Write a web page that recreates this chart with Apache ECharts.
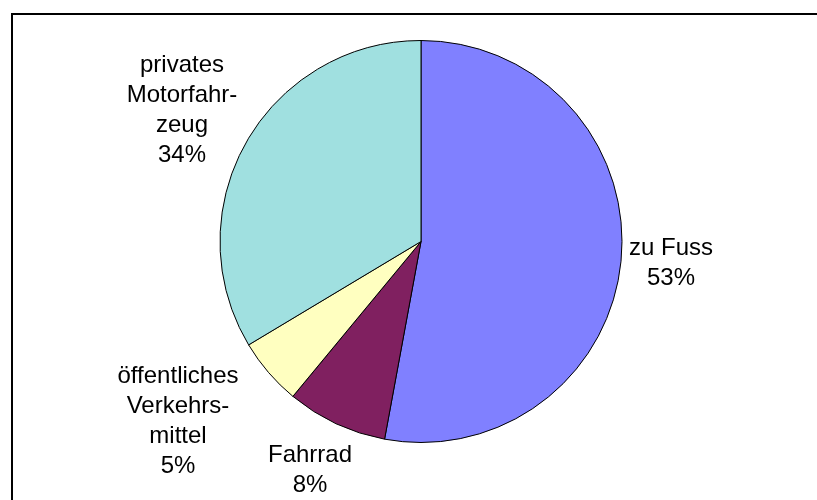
<!DOCTYPE html>
<html>
<head>
<meta charset="utf-8">
<script src="https://cdn.jsdelivr.net/npm/echarts@6/dist/echarts.min.js"></script>
<style>html,body{margin:0;padding:0;background:#fff}#c{width:817px;height:500px}</style>
</head>
<body>
<div id="c"></div>
<script>
var categories = ['zu Fuss', 'Fahrrad', 'öffentliches\nVerkehrs-\nmittel', 'privates\nMotorfahr-\nzeug'];
var values = [52.9, 8.1, 5.4, 33.6];
var percentLabels = ['53%', '8%', '5%', '34%'];
var colors = ['#8080FF', '#802060', '#FFFFC0', '#A0E0E0'];

var labelPos = [[671, 263], [310, 470], [178, 421], [182, 110]];

var chart = echarts.init(document.getElementById('c'));
chart.setOption({
  animation: false,
  backgroundColor: '#ffffff',
  graphic: [{
    type: 'rect',
    shape: {x: 12, y: 14, width: 900, height: 600},
    style: {fill: 'none', stroke: '#000', lineWidth: 2},
    silent: true
  }],
  series: [{
    type: 'pie',
    center: [421, 241.5],
    radius: 201,
    startAngle: 90,
    clockwise: true,
    data: categories.map(function (c, i) {
      return {name: c, value: values[i], itemStyle: {color: colors[i]}};
    }),
    itemStyle: {borderColor: '#000', borderWidth: 1},
    label: {
      show: true,
      position: 'outside',
      formatter: function (p) { return p.name + '\n' + percentLabels[p.dataIndex]; },
      fontFamily: 'Liberation Sans, Arial, sans-serif',
      fontSize: 24,
      lineHeight: 30,
      color: '#000',
      align: 'center'
    },
    labelLine: {show: false},
    labelLayout: function (params) {
      var p = labelPos[params.dataIndex];
      return {x: p[0], y: p[1], align: 'center', verticalAlign: 'middle'};
    },
    emphasis: {disabled: true}
  }]
});
</script>
</body>
</html>
